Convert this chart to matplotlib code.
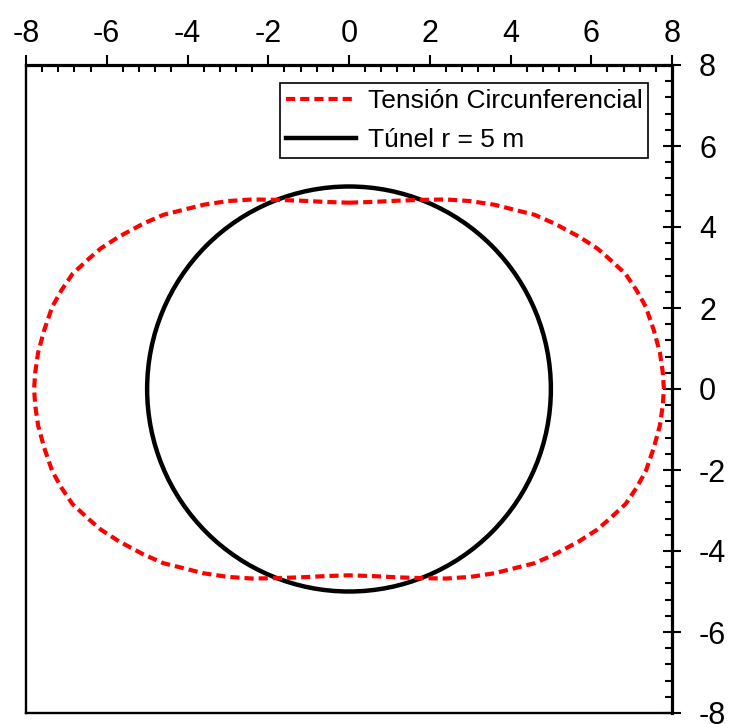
import numpy as np
import matplotlib
matplotlib.use("Agg")
import matplotlib.pyplot as plt
from matplotlib.patches import Circle
from matplotlib.lines import Line2D
from matplotlib.ticker import MultipleLocator, AutoMinorLocator

plt.rcParams['font.family'] = ['Liberation Sans', 'DejaVu Sans']
plt.rcParams['axes.unicode_minus'] = False

# circumferential stress envelope, first quadrant, mirrored below
quad_x = [0.0, 0.6, 1.2, 1.8, 2.4, 3.0, 3.6, 4.2, 4.6, 5.1, 5.7, 6.15, 6.45,
          6.85, 7.12, 7.35, 7.55, 7.70, 7.77, 7.8]
quad_y = [4.60, 4.62, 4.65, 4.67, 4.68, 4.64, 4.55, 4.40, 4.30, 4.08, 3.76, 3.47, 3.21,
          2.84, 2.44, 2.03, 1.45, 0.90, 0.42, 0.0]
tunnel_radius = 5.0

label_stress = "Tensión Circunferencial"
label_tunnel = "Túnel r = 5 m"

qx = np.array(quad_x)
qy = np.array(quad_y)
# go round: top -> right -> bottom -> left -> top
xs = np.concatenate([qx, qx[::-1][1:], -qx[1:], -qx[::-1][1:]])
ys = np.concatenate([qy, -qy[::-1][1:], -qy[1:], qy[::-1][1:]])

dash = (0, (2.2, 1.2))

fig = plt.figure(figsize=(7.29, 7.24), dpi=100)
ax = fig.add_axes([26/729, 1-713/724, 646/729, 648/724])

ax.plot(xs, ys, color='red', lw=3.0, linestyle=dash, label=label_stress)
ax.add_patch(Circle((0, 0), tunnel_radius, fill=False, edgecolor='black', lw=3.2))

ax.set_xlim(-8, 8)
ax.set_ylim(-8, 8)

ax.xaxis.tick_top()
ax.yaxis.tick_right()
ax.xaxis.set_major_locator(MultipleLocator(2))
ax.yaxis.set_major_locator(MultipleLocator(2))
ax.xaxis.set_minor_locator(AutoMinorLocator(5))
ax.yaxis.set_minor_locator(AutoMinorLocator(5))

ax.tick_params(axis='x', which='major', direction='out', length=7.5, width=1.5,
               labelsize=22, pad=4)
ax.tick_params(axis='x', which='minor', direction='in', length=5, width=1.5)
ax.tick_params(axis='y', which='major', direction='inout', length=13, width=1.5,
               labelsize=22, pad=13)
ax.tick_params(axis='y', which='minor', direction='in', length=5, width=1.5)

for s in ['top', 'right']:
    ax.spines[s].set_linewidth(2.3)
for s in ['left', 'bottom']:
    ax.spines[s].set_linewidth(1.7)

handles = [Line2D([], [], color='red', lw=3.0, linestyle=dash),
           Line2D([], [], color='black', lw=3.2)]
leg = ax.legend(handles, [label_stress, label_tunnel], loc='upper right',
                bbox_to_anchor=(0.963, 0.972), borderaxespad=0, fontsize=19,
                fancybox=False, framealpha=1, edgecolor='black',
                handlelength=2.65, handletextpad=0.45, borderpad=0.22,
                labelspacing=0.58)
leg.get_frame().set_linewidth(1.2)

fig.savefig("out.png", dpi=100)
